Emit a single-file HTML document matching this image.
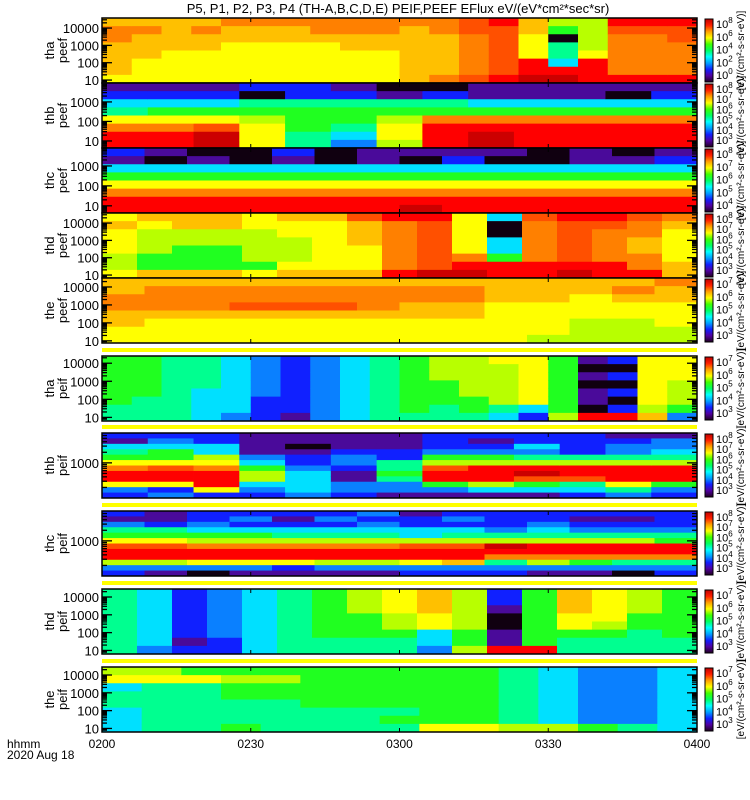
<!DOCTYPE html>
<html><head><meta charset="utf-8">
<style>
body{margin:0;background:#fff;width:750px;height:800px;overflow:hidden;font-family:"Liberation Sans",sans-serif}
svg{display:block}
text{font-family:"Liberation Sans",sans-serif;fill:#000}
</style></head>
<body>
<svg id="chart" width="750" height="800" viewBox="0 0 750 800" xmlns="http://www.w3.org/2000/svg">
<text x="398" y="13" font-size="13" text-anchor="middle">P5, P1, P2, P3, P4 (TH-A,B,C,D,E) PEIF,PEEF EFlux eV/(eV*cm²*sec*sr)</text>
<g id="panels"></g>
<text x="7" y="748" font-size="12">hhmm</text>
<text x="7" y="759" font-size="12">2020 Aug 18</text>
</svg>
<script>
// Colour code digits: 0 black .. d dark red
const colorCodes = "0123456789abcd";
const palette = ["#100010","#4a0a9a","#1020ff","#0a80ff","#00e0ff","#00ff90","#20ff20","#b8ff00","#ffff00","#ffc000","#ff8000","#ff5000","#ff0000","#cc0000"];
const timeTicks = ["0200","0230","0300","0330","0400"];
const timeStart = 0, timeEnd = 120; // minutes after 0200
const tickMinutes = [0,30,60,90,120];

const panelNames = ["tha peef","thb peef","thc peef","thd peef","the peef","tha peif","thb peif","thc peif","thd peif","the peif"];
const panelTop = [18,83,148,213,278,356,433,511,589,667];
const panelBottom = [83,148,213,278,343,421,498,576,654,732];
const panelLogLo = [0.83,0.64,0.64,0.83,0.88,0.8,2.0,2.0,0.8,0.8];
const panelLogHi = [4.58,3.97,3.9,4.58,4.5,4.4,3.85,3.85,4.45,4.45];
const panelLabels = [[10,100,1000,10000],[10,100,1000],[10,100,1000],[10,100,1000,10000],[10,100,1000,10000],[10,100,1000,10000],[1000],[1000],[10,100,1000,10000],[10,100,1000,10000]];
const cbarLabels = [["8","6","4","2","0"],["8","7","6","5","4","3"],["8","7","6","5","4"],["8","7","6","5","4","3"],["7","6","5","4","3"],["7","6","5","4","3"],["8","7","6","5","4","3"],["8","7","6","5","4","3"],["7","6","5","4","3"],["7","6","5","4","3"]];

const thaPeef = ["9aa99998","9a999888","99998888","9a998888","a9988888","a9988888","a9988888","aa988888","aa998888","aa998888","a9999999","aa99999a","bbaaaaab","cbbbbbbc","99888ccd","760554cd","77778ccc","cbaaaaac","cbaaaaac","cbbaaaac"];
const thbPeef = ["12458acc","12468acc","12468bdd","20567888","22566655","12566543","01567887","0256accc","1146acdd","1146accc","1146accc","1046accc","1246accc"];
const thcPeef = ["21468acc","10468acc","01468acc","00468acc","21468acc","00468acc","11468acc","10468acd","12468acc","10468acc","00468acc","11468acc","01468acc","12468acc"];
const thdPeef = ["89888778","98777669","99776669","99776669","88777768","98877789","98888889","b9998889","caaaaaac","cbbbbbbd","88888acd","400446cc","baaaaacc","cbbbbbcd","cbaaaacc","baa99aac","a9888899"];
const thePeef = ["99aa9988","9aaa9888","9aaa9888","9aab9888","9aab9888","9aab9888","9aaa9888","9aa99888","9aa99888","99988888","99988887","99888777","9a988777","a9988877"];
const thaPeif = ["66666655","66666555","55555555","55554444","44444443","33333222","22222221","33333333","44444444","55555555","66666665","77766655","77777665","87777754","88888842","66666667","1010110c","2020202c","88888879","88877763"];
const thbPeif = ["214568acc832","234668bcc823","224478accc82","111134677432","110122344443","111233211332","111225565331","222367bcc631","212367ccc741","224357cdb641","222257ccb542","123357ccc853","133457ccc632"];
const thcPeif = ["213568bcc732","112568bcc731","223467acc830","232467acc831","212457acc821","232457acc731","323457acc731","122447bcc832","232457bcc932","222357dca532","223457cca731","212357cca631","212357cca530","222356cca532"];
const thdPeif = ["55555555","44444443","22222212","33333322","44444444","55555555","66666655","77766655","88877655","99988443","77777667","2210011c","6666666c","99988655","88887655","77766555","66666655"];
const thePeif = ["78455444","78555555","68555555","67665556","67665555","66666555","66666555","66666565","66666668","66666668","55555557","44444447","33333336","33333335","44444444"];
const panelData = [thaPeef,thbPeef,thcPeef,thdPeef,thePeef,thaPeif,thbPeif,thcPeif,thdPeif,thePeif];

const X0 = 102, X1 = 697;
function xScale(m){ return X0 + (m - timeStart) / (timeEnd - timeStart) * (X1 - X0); }
function yScale(p, v){ const lo=panelLogLo[p], hi=panelLogHi[p]; return panelBottom[p] - (Math.log10(v)-lo)/(hi-lo)*(panelBottom[p]-panelTop[p]); }

const NS = "http://www.w3.org/2000/svg";
const root = document.getElementById("panels");
function mk(tag, attrs, parent){ const e=document.createElementNS(NS,tag); for(const k in attrs) e.setAttribute(k,attrs[k]); (parent||root).appendChild(e); return e; }

const defs = mk("defs",{});
const grad = mk("linearGradient",{id:"cb",x1:"0",y1:"1",x2:"0",y2:"0"},defs);
const stops = ["#200020","#5000a0","#1020ff","#00a0ff","#00ffff","#00ff60","#40ff00","#ffff00","#ffa000","#ff2000","#c00000"];
stops.forEach((c,i)=>{ mk("stop",{offset:(i/(stops.length-1)),"stop-color":c},grad); });

for(let p=0;p<panelNames.length;p++){
  const top=panelTop[p], bot=panelBottom[p], h=bot-top;
  const g = mk("g",{});
  
  
  if(p>=5){
    const s = mk("rect",{x:X0,y:top-8,width:X1-X0,height:4,fill:"#ffff00"},g);
    
    
  }
  const cols = panelData[p];
  const nc = cols.length;
  for(let c=0;c<nc;c++){
    const xa = xScale(timeStart + c*(timeEnd-timeStart)/nc), xb = xScale(timeStart + (c+1)*(timeEnd-timeStart)/nc);
    const bands = cols[c]; const nb = bands.length;
    for(let b=0;b<nb;b++){
      const ci = colorCodes.indexOf(bands[b]);
      const r = mk("rect",{x:xa.toFixed(2),y:(top+b*h/nb).toFixed(2),width:(xb-xa+0.4).toFixed(2),height:(h/nb+0.4).toFixed(2),fill:palette[ci]},g);
      
      
    }
  }
  const frame = mk("rect",{x:X0,y:top,width:X1-X0,height:h,fill:"none",stroke:"#000","stroke-width":1.5},g);
  
  
  for(let d=0; d<6; d++){
    for(let k=1;k<10;k++){
      const v=Math.pow(10,d)*k; const y=yScale(p,v);
      if(y<top+1||y>bot-1) continue;
      const len = k===1?10:5;
      mk("line",{x1:X0,x2:X0+len,y1:y,y2:y,stroke:"#000","stroke-width":1.3},g);
      mk("line",{x1:X1-len,x2:X1,y1:y,y2:y,stroke:"#000","stroke-width":1.3},g);
    }
  }
  panelLabels[p].forEach(v=>{
    const t = mk("text",{x:X0-3,y:yScale(p,v)+5,"font-size":13,"text-anchor":"end"},g);
    
    
    t.textContent = String(v);
  });
  tickMinutes.forEach(m=>{
    const x=xScale(m);
    mk("line",{x1:x,x2:x,y1:bot,y2:bot-4,stroke:"#000","stroke-width":1},g);
    mk("line",{x1:x,x2:x,y1:top,y2:top+4,stroke:"#000","stroke-width":1},g);
  });
  const parts = panelNames[p].split(" ");
  const yt = mk("text",{transform:`translate(54,${(top+bot)/2}) rotate(-90)`,"font-size":13,"text-anchor":"middle"},g);
  
  
  yt.textContent = parts[0];
  const yt2 = mk("text",{transform:`translate(67,${(top+bot)/2}) rotate(-90)`,"font-size":13,"text-anchor":"middle"},g);
  
  
  yt2.textContent = parts[1];
  const cb = mk("rect",{x:705,y:top+1,width:8,height:h-2,fill:"url(#cb)",stroke:"#000","stroke-width":1},g);
  
  
  const labs = cbarLabels[p];
  labs.forEach((e,i)=>{
    const y = top + 10 + i*(h-14)/(labs.length-1);
    const t = mk("text",{x:716,y:y,"font-size":11},g);
    
    
    t.textContent = "10";
    const s = mk("tspan",{dy:-5,"font-size":8},t);
    s.textContent = e;
  });
  const ut = mk("text",{transform:`translate(744,${(top+bot)/2}) rotate(-90)`,"font-size":10,"text-anchor":"middle"},g);
  
  
  ut.textContent = "[eV/(cm²-s-sr-eV)]";
}
timeTicks.forEach((t,i)=>{
  const e = mk("text",{x:xScale(tickMinutes[i]),y:748,"font-size":12,"text-anchor":"middle"});
  
  
  e.textContent = t;
});
</script>
</body></html>
